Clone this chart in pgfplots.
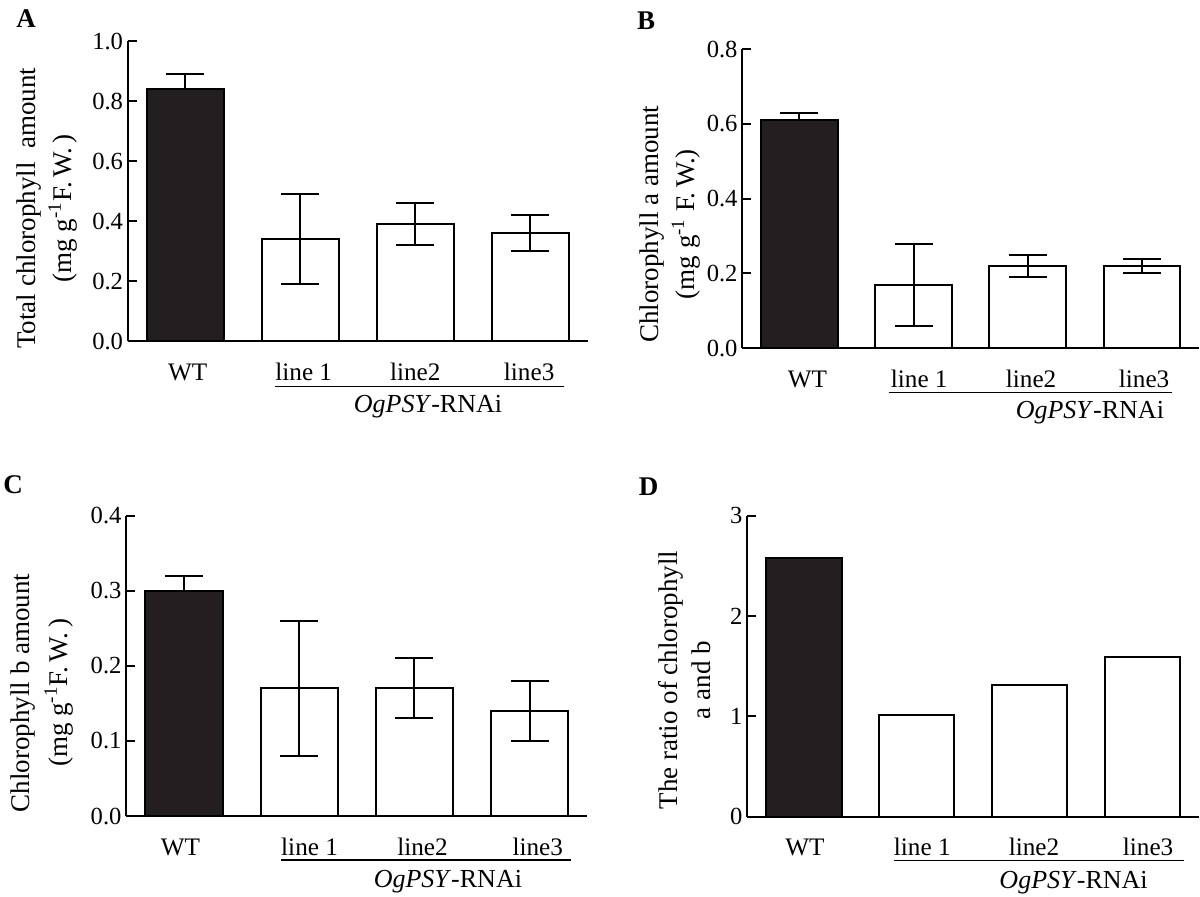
\documentclass[border=0pt]{standalone}
\usepackage{fontspec}
\setmainfont{Liberation Serif}
\usepackage{pgfplots}
\pgfplotsset{compat=1.18}
\newcommand{\tk}{\fontsize{12.3}{14}\selectfont}
\newcommand{\xl}{\fontsize{12.6}{14}\selectfont}
\newcommand{\og}{\fontsize{13}{15}\selectfont}
\newcommand{\yl}{\fontsize{13.5}{18}\selectfont}
\newcommand{\pl}{\fontsize{13.5}{15}\selectfont\bfseries}
\definecolor{barblack}{RGB}{35,31,32}
\pgfplotsset{
  panel/.style={
    scale only axis, anchor=south west, clip=false,
    axis x line*=bottom, axis y line*=left,
    axis line style={line width=1pt, black},
    xmin=-0.5, xmax=3.5, ymin=0,
    xticklabels={WT,line 1,line2,line3},
    x tick style={draw=none},
    xticklabel style={anchor=base, yshift=-19.5pt, font=\xl},
    y tick style={line width=1pt, black},
    tick align=inside, major tick length=4.5pt,
    yticklabel style={font=\tk, inner xsep=2.2pt},
    /pgf/number format/assume math mode=true,
  },
  wt/.style={ybar, bar width=0.67, bar shift=0pt, fill=barblack, draw=black, line width=1pt},
  ln/.style={ybar, bar width=0.67, bar shift=0pt, fill=white, draw=black, line width=1pt},
  eb/.style={error bars/.cd, y dir=#1, y explicit, error mark=|,
    error bar style={line width=1pt, black},
    error mark options={line width=1pt, black, mark size=9.5pt}},
}
\begin{document}
\begin{tikzpicture}
\path[use as bounding box] (0,0) rectangle (600pt,448pt);

% ---------- A ----------
\begin{axis}[panel, at={(63.9pt,277.35pt)}, width=230pt, height=150pt,
  xtick={0.02,1.03,2,2.99},
  ymax=1.0, ytick={0,0.2,0.4,0.6,0.8,1.0},
  yticklabel style={/pgf/number format/.cd, fixed, fixed zerofill, precision=1},
  ylabel={Total chlorophyll\ \ amount\\(mg g\textsuperscript{-1}F.\,W.\,)},
  ylabel style={at={(axis description cs:-0.176,0.443)}, anchor=center, align=center, font=\yl}]
\addplot[wt, eb=plus] coordinates {(0,0.84) +- (0,0.05)};
\addplot[ln, eb=both] coordinates {(1,0.34) +- (0,0.15) (2,0.39) +- (0,0.07) (3,0.36) +- (0,0.06)};
\draw[line width=0.7pt] ([yshift=-22.7pt]axis cs:0.781,0) -- ([yshift=-22.7pt]axis cs:3.291,0);
\node[anchor=base, font=\og] at ([yshift=-35.5pt]axis cs:2.11,0) {\textit{OgPSY}-RNAi};
\end{axis}

% ---------- B ----------
\begin{axis}[panel, at={(371.15pt,273.85pt)}, width=228.3pt, height=149.65pt,
  xtick={0.07,1.05,2.03,3.02},
  ymax=0.8, ytick={0,0.2,0.4,0.6,0.8},
  yticklabel style={/pgf/number format/.cd, fixed, fixed zerofill, precision=1},
  ylabel={Chlorophyll a amount\\(mg g\textsuperscript{-1} F.\,W.)},
  ylabel style={at={(axis description cs:-0.158,0.415)}, anchor=center, align=center, font=\yl}]
\addplot[wt, eb=plus] coordinates {(0,0.61) +- (0,0.02)};
\addplot[ln, eb=both] coordinates {(1,0.17) +- (0,0.11) (2,0.22) +- (0,0.03) (3,0.22) +- (0,0.02)};
\draw[line width=0.7pt] ([yshift=-22.2pt]axis cs:0.784,0) -- ([yshift=-22.2pt]axis cs:3.266,0);
\node[anchor=base, font=\og] at ([yshift=-35.3pt]axis cs:2.545,0) {\textit{OgPSY}-RNAi};
\end{axis}

% ---------- C ----------
\begin{axis}[panel, at={(63.15pt,40pt)}, width=230.55pt, height=150.15pt,
  xtick={-0.03,1.09,2.07,3.07},
  ymax=0.4, ytick={0,0.1,0.2,0.3,0.4},
  yticklabel style={/pgf/number format/.cd, fixed, fixed zerofill, precision=1},
  ylabel={Chlorophyll b amount\\(mg g\textsuperscript{-1}F.\,W.\,)},
  ylabel style={at={(axis description cs:-0.183,0.41)}, anchor=center, align=center, font=\fontsize{13.5}{19}\selectfont}]
\addplot[wt, eb=plus] coordinates {(0,0.30) +- (0,0.02)};
\addplot[ln, eb=both] coordinates {(1,0.17) +- (0,0.09) (2,0.17) +- (0,0.04) (3,0.14) +- (0,0.04)};
\draw[line width=0.7pt] ([yshift=-22pt]axis cs:0.843,0) -- ([yshift=-22pt]axis cs:3.355,0);
\node[anchor=base, font=\og] at ([yshift=-35.6pt]axis cs:2.29,0) {\textit{OgPSY}-RNAi};
\end{axis}

% ---------- D ----------
\begin{axis}[panel, at={(373.65pt,39.65pt)}, width=225.8pt, height=150.5pt,
  xtick={0.01,1.05,2.04,3.05},
  ymax=3, ytick={0,1,2,3},
  ylabel={The ratio of chlorophyll\\a and b},
  ylabel style={at={(axis description cs:-0.138,0.454)}, anchor=center, align=center, font=\fontsize{13.5}{16.5}\selectfont}]
\addplot[wt] coordinates {(0,2.58)};
\addplot[ln] coordinates {(1,1.01) (2,1.31) (3,1.59)};
\draw[line width=0.7pt] ([yshift=-22pt]axis cs:0.80,0) -- ([yshift=-22pt]axis cs:3.364,0);
\node[anchor=base, font=\og] at ([yshift=-36pt]axis cs:2.39,0) {\textit{OgPSY}-RNAi};
\end{axis}

\node[font=\pl] at (13pt,438.75pt) {A};
\node[font=\pl] at (323pt,437.5pt) {B};
\node[font=\pl] at (6.5pt,205.5pt) {C};
\node[font=\pl] at (324.25pt,204.75pt) {D};
\end{tikzpicture}
\end{document}
